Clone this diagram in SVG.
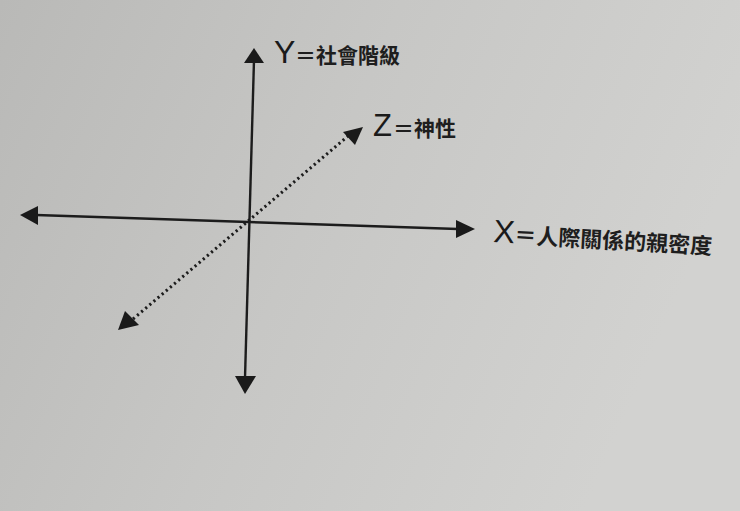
<svg xmlns="http://www.w3.org/2000/svg" width="740" height="511" viewBox="0 0 740 511">
<defs>
<linearGradient id="bg" x1="0" y1="0" x2="1" y2="0.3">
<stop offset="0" stop-color="#b9b9b7"/>
<stop offset="0.5" stop-color="#c7c7c5"/>
<stop offset="1" stop-color="#d2d2d0"/>
</linearGradient>
<style>
.ax{stroke:#1c1c1c;stroke-width:2.4;fill:none}
.dot{stroke:#1c1c1c;stroke-width:3;fill:none;stroke-dasharray:2.2 3.2}
.hd{fill:#1a1a1a}
.lt{font-family:"Liberation Sans","DejaVu Sans",sans-serif;fill:#1a1a1a}
.cj{font-family:"Noto Sans CJK TC","Noto Sans CJK SC",sans-serif;fill:#1e1e1e;font-weight:600}
</style>
</defs>
<rect width="740" height="511" fill="url(#bg)"/>
<g id="connectors">
<line class="ax" x1="254" y1="60" x2="245" y2="378"/>
<polygon class="hd" points="254,48 264,63 244,63"/>
<polygon class="hd" points="245,394 235,376 256,376"/>
<line class="ax" x1="36" y1="215" x2="458" y2="229"/>
<polygon class="hd" points="20,215 38,206 38,225"/>
<polygon class="hd" points="475,229 456,220 456,238"/>
<line class="dot" x1="133" y1="319" x2="348" y2="136"/>
<polygon class="hd" points="363,127 343,132 355,145"/>
<polygon class="hd" points="118,330 125,311 139,325"/>
</g>
<g id="label-y">
<text class="lt" x="274" y="63" font-size="32">Y</text>
<text class="cj" x="295" y="63" font-size="21">＝社會階級</text>
</g>
<g id="label-z">
<text class="lt" x="373" y="136" font-size="31">Z</text>
<text class="cj" x="393" y="136" font-size="21">＝神性</text>
</g>
<g id="label-x" transform="rotate(3.2 494 242)">
<text class="lt" x="493" y="242" font-size="32">X</text>
<text class="cj" x="514" y="242" font-size="22">＝人際關係的親密度</text>
</g>
</svg>
